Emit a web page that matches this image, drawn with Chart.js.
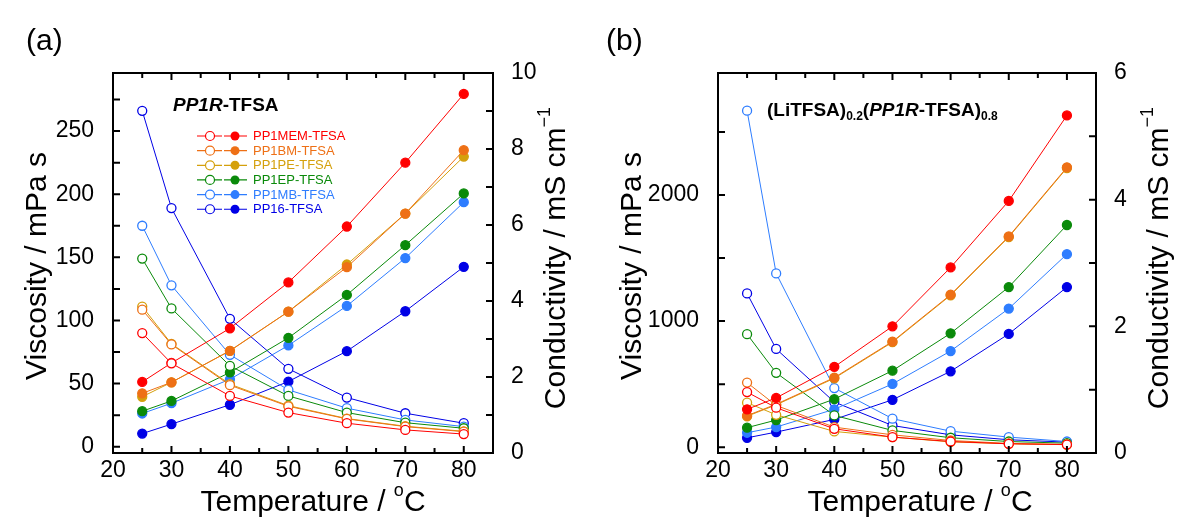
<!DOCTYPE html>
<html>
<head>
<meta charset="utf-8">
<script src="https://cdn.jsdelivr.net/npm/chart.js@4.4.1/dist/chart.umd.min.js"></script>
<style>
  html, body { margin: 0; padding: 0; background: #fff; }
  #wrap { position: relative; width: 1177px; height: 519px; overflow: hidden; }
  canvas { position: absolute; top: 0; }
  #chartA { left: 0; }
  #chartB { left: 590px; }
</style>
</head>
<body>
<div id="wrap">
  <canvas id="chartA" width="590" height="519"></canvas>
  <canvas id="chartB" width="587" height="519"></canvas>
</div>
<script>
// --- données ---
const temps = [25, 30, 40, 50, 60, 70, 80];
const names = ['PP1MEM-TFSA', 'PP1BM-TFSA', 'PP1PE-TFSA', 'PP1EP-TFSA', 'PP1MB-TFSA', 'PP16-TFSA'];
const colors = ['#ff0000', '#ee7016', '#d4a00c', '#0a8a0a', '#2e7dff', '#0000e6'];

const xTicks = [20, 30, 40, 50, 60, 70, 80];
const viscTicksA = [0, 50, 100, 150, 200, 250];
const condTicksA = [0, 2, 4, 6, 8, 10];
const viscTicksB = [0, 1000, 2000];
const condTicksB = [0, 2, 4, 6];

// (a) liquides purs : viscosité (mPa s) et conductivité (mS/cm)
const viscA = [
  [90, 66, 40.2, 27, 18.6, 13.3, 10],
  [108.5, 81, 48.7, 32, 22, 15.9, 11.9],
  [111, 81.5, 49.5, 32.5, 22.3, 16.2, 12.2],
  [149, 109.5, 64, 40.2, 27, 19, 14.6],
  [175, 127.8, 72.8, 45, 30.5, 21.2, 15.9],
  [266, 189, 101.3, 61.7, 38.9, 26.5, 18.6]
];
const condA = [
  [1.87, 2.37, 3.28, 4.49, 5.96, 7.64, 9.45],
  [1.57, 1.86, 2.69, 3.72, 4.89, 6.30, 7.97],
  [1.48, 1.86, 2.69, 3.72, 4.96, 6.30, 7.80],
  [1.10, 1.37, 2.12, 3.03, 4.16, 5.47, 6.83],
  [1.04, 1.31, 1.94, 2.83, 3.87, 5.13, 6.60],
  [0.51, 0.76, 1.27, 1.88, 2.68, 3.73, 4.90]
];

// (b) mélanges avec LiTFSA
const viscB = [
  [437, 313, 146, 80, 45, 27, 21],
  [512, 331, 159, 98, 53, 30, 22],
  [353, 257, 125, 80, 42, 27, 20],
  [896, 590, 252, 133, 75, 45, 32],
  [2668, 1378, 469, 226, 127, 80, 45],
  [1219, 779, 358, 172, 98, 59, 40]
];
const condB = [
  [0.69, 0.87, 1.36, 2.00, 2.93, 3.98, 5.33],
  [0.59, 0.77, 1.19, 1.76, 2.50, 3.42, 4.51],
  [0.58, 0.76, 1.18, 1.75, 2.49, 3.41, 4.50],
  [0.40, 0.52, 0.85, 1.30, 1.89, 2.62, 3.60],
  [0.32, 0.41, 0.69, 1.09, 1.61, 2.28, 3.14],
  [0.24, 0.33, 0.53, 0.84, 1.29, 1.88, 2.62]
];

const FONT = '"Liberation Sans", Arial, Helvetica, sans-serif';

// --- petits outils texte (exposants / indices) ---
function runWidth(ctx, parts) {
  let w = 0;
  parts.forEach(p => { ctx.font = p.font; w += ctx.measureText(p.text).width; });
  return w;
}
function drawRun(ctx, parts, x, y) {
  parts.forEach(p => {
    ctx.font = p.font;
    ctx.fillText(p.text, x, y + (p.dy || 0));
    x += ctx.measureText(p.text).width;
  });
}
function drawCentered(ctx, parts, cx, cy, rot) {
  ctx.save();
  ctx.translate(cx, cy);
  ctx.rotate(rot || 0);
  ctx.textAlign = 'left';
  ctx.textBaseline = 'middle';
  const w = runWidth(ctx, parts);
  drawRun(ctx, parts, -w / 2, 0);
  ctx.restore();
}
function eachStep(min, max, step, fn) {
  const start = Math.ceil(min / step - 1e-9) * step;
  for (let v = start; v <= max + 1e-9; v += step) fn(Math.round(v * 1e6) / 1e6);
}

const titleFont = `30px ${FONT}`;
const supFont = `18px ${FONT}`;

// cadre, graduations internes, titres d'axes
const frame = {
  id: 'frame',
  afterDraw(chart, args, o) {
    const { ctx, chartArea: a } = chart;
    const sx = chart.scales.x, sy = chart.scales.y, sy1 = chart.scales.y1;
    ctx.save();
    ctx.strokeStyle = '#000';
    ctx.lineWidth = 2;
    ctx.beginPath();
    eachStep(sx.min, sx.max, 5, v => {
      const p = sx.getPixelForValue(v);
      if (p <= a.left + 1 || p >= a.right - 1) return;
      const len = v % 10 === 0 ? 7 : 5;
      ctx.moveTo(p, a.bottom); ctx.lineTo(p, a.bottom - len);
      ctx.moveTo(p, a.top); ctx.lineTo(p, a.top + len);
    });
    eachStep(sy.min, sy.max, o.yMinor, v => {
      const p = sy.getPixelForValue(v);
      if (p >= a.bottom - 1 || p <= a.top + 1) return;
      ctx.moveTo(a.left, p); ctx.lineTo(a.left + 7, p);
    });
    eachStep(sy1.min, sy1.max, 1, v => {
      const p = sy1.getPixelForValue(v);
      if (p >= a.bottom - 1 || p <= a.top + 1) return;
      ctx.moveTo(a.right, p); ctx.lineTo(a.right - 7, p);
    });
    ctx.stroke();
    ctx.strokeRect(a.left, a.top, a.right - a.left, a.bottom - a.top);

    ctx.fillStyle = '#000';
    drawCentered(ctx, [
      { text: 'Temperature / ', font: titleFont },
      { text: 'o', font: supFont, dy: -12 },
      { text: 'C', font: titleFont }
    ], o.xTitleX, 503);
    drawCentered(ctx, [{ text: 'Viscosity / mPa s', font: titleFont }], o.yTitleX, 266, -Math.PI / 2);
    drawCentered(ctx, [
      { text: 'Conductivity / mS cm', font: titleFont },
      { text: '\u22121', font: supFont, dy: -12 }
    ], o.y1TitleX, 258, -Math.PI / 2);

    ctx.textAlign = 'left';
    ctx.textBaseline = 'alphabetic';
    ctx.font = `30px ${FONT}`;
    ctx.fillText(o.panel, o.panelX, 50);
    drawRun(ctx, o.heading, o.headingX, o.headingY);
    if (o.legend) o.legend(ctx);
    ctx.restore();
  }
};

// légende du panneau (a) : cercle ouvert = viscosité, plein = conductivité
function legendA(ctx) {
  ctx.save();
  ctx.lineWidth = 1.2;
  ctx.font = `13px ${FONT}`;
  ctx.textBaseline = 'middle';
  names.forEach((n, i) => {
    const y = 136 + i * 14.65;
    ctx.strokeStyle = colors[i];
    ctx.beginPath();
    ctx.moveTo(197, y); ctx.lineTo(222, y);
    ctx.moveTo(224, y); ctx.lineTo(247, y);
    ctx.stroke();
    ctx.beginPath(); ctx.arc(210, y, 4.5, 0, Math.PI * 2);
    ctx.fillStyle = '#fff'; ctx.fill(); ctx.stroke();
    ctx.beginPath(); ctx.arc(235, y, 4.5, 0, Math.PI * 2);
    ctx.fillStyle = colors[i]; ctx.fill();
    ctx.fillText(n, 253, y + 0.5);
  });
  ctx.restore();
}

function buildDatasets(visc, cond) {
  const sets = [];
  names.forEach((n, i) => {
    const common = {
      borderColor: colors[i],
      borderWidth: 1,
      pointRadius: 4.5,
      pointBorderWidth: 1.3,
      pointBorderColor: colors[i],
      tension: 0,
      fill: false
    };
    sets.push(Object.assign({
      label: n + ' viscosity',
      data: temps.map((t, k) => ({ x: t, y: visc[i][k] })),
      yAxisID: 'y',
      pointBackgroundColor: '#fff'
    }, common));
    sets.push(Object.assign({
      label: n + ' conductivity',
      data: temps.map((t, k) => ({ x: t, y: cond[i][k] })),
      yAxisID: 'y1',
      pointBackgroundColor: colors[i]
    }, common));
  });
  return sets;
}

function setTicks(arr) {
  return scale => { scale.ticks = arr.map(v => ({ value: v })); };
}

function makeChart(id, c) {
  const tickFont = { family: FONT, size: 23 };
  return new Chart(document.getElementById(id), {
    type: 'line',
    data: { datasets: buildDatasets(c.visc, c.cond) },
    plugins: [frame],
    options: {
      responsive: false,
      animation: false,
      events: [],
      layout: { padding: { top: 73, left: 0, right: 0, bottom: 0 } },
      plugins: {
        legend: { display: false },
        tooltip: { enabled: false },
        frame: c.frame
      },
      scales: {
        x: {
          type: 'linear', position: 'bottom', min: 20, max: 85,
          grid: { display: false }, border: { display: false },
          afterBuildTicks: setTicks(xTicks),
          afterFit: s => { s.height = 66; },
          ticks: { font: tickFont, color: '#000', padding: -4, maxRotation: 0, callback: v => String(v) }
        },
        y: {
          type: 'linear', position: 'left', min: c.yMin, max: c.yMax,
          grid: { display: false }, border: { display: false },
          afterBuildTicks: setTicks(c.yTicks),
          afterFit: s => { s.width = c.leftW; },
          ticks: { font: tickFont, color: '#000', padding: 11, callback: v => String(v) }
        },
        y1: {
          type: 'linear', position: 'right', min: c.y1Min, max: c.y1Max,
          grid: { display: false }, border: { display: false },
          afterBuildTicks: setTicks(c.y1Ticks),
          afterFit: s => { s.width = c.rightW; },
          ticks: { font: tickFont, color: '#000', padding: 10, callback: v => String(v) }
        }
      }
    }
  });
}

const bold = `bold 19px ${FONT}`;
const boldIt = `italic bold 19px ${FONT}`;
const subB = `bold 12px ${FONT}`;

makeChart('chartA', {
  visc: viscA, cond: condA,
  yMin: -5, yMax: 296, y1Min: 0, y1Max: 10,
  yTicks: viscTicksA, y1Ticks: condTicksA,
  leftW: 113, rightW: 97,
  frame: {
    yMinor: 25,
    xTitleX: 313, yTitleX: 38, y1TitleX: 557,
    panel: '(a)', panelX: 26,
    heading: [{ text: 'PP1R', font: boldIt }, { text: '-TFSA', font: bold }],
    headingX: 173, headingY: 111,
    legend: legendA
  }
});

makeChart('chartB', {
  visc: viscB, cond: condB,
  yMin: -46, yMax: 2967, y1Min: 0, y1Max: 6,
  yTicks: viscTicksB, y1Ticks: condTicksB,
  leftW: 128, rightW: 81,
  frame: {
    yMinor: 500,
    xTitleX: 330, yTitleX: 43, y1TitleX: 570,
    panel: '(b)', panelX: 16,
    heading: [
      { text: '(LiTFSA)', font: bold },
      { text: '0.2', font: subB, dy: 4 },
      { text: '(', font: bold },
      { text: 'PP1R', font: boldIt },
      { text: '-TFSA)', font: bold },
      { text: '0.8', font: subB, dy: 4 }
    ],
    headingX: 177, headingY: 116
  }
});
</script>
</body>
</html>
